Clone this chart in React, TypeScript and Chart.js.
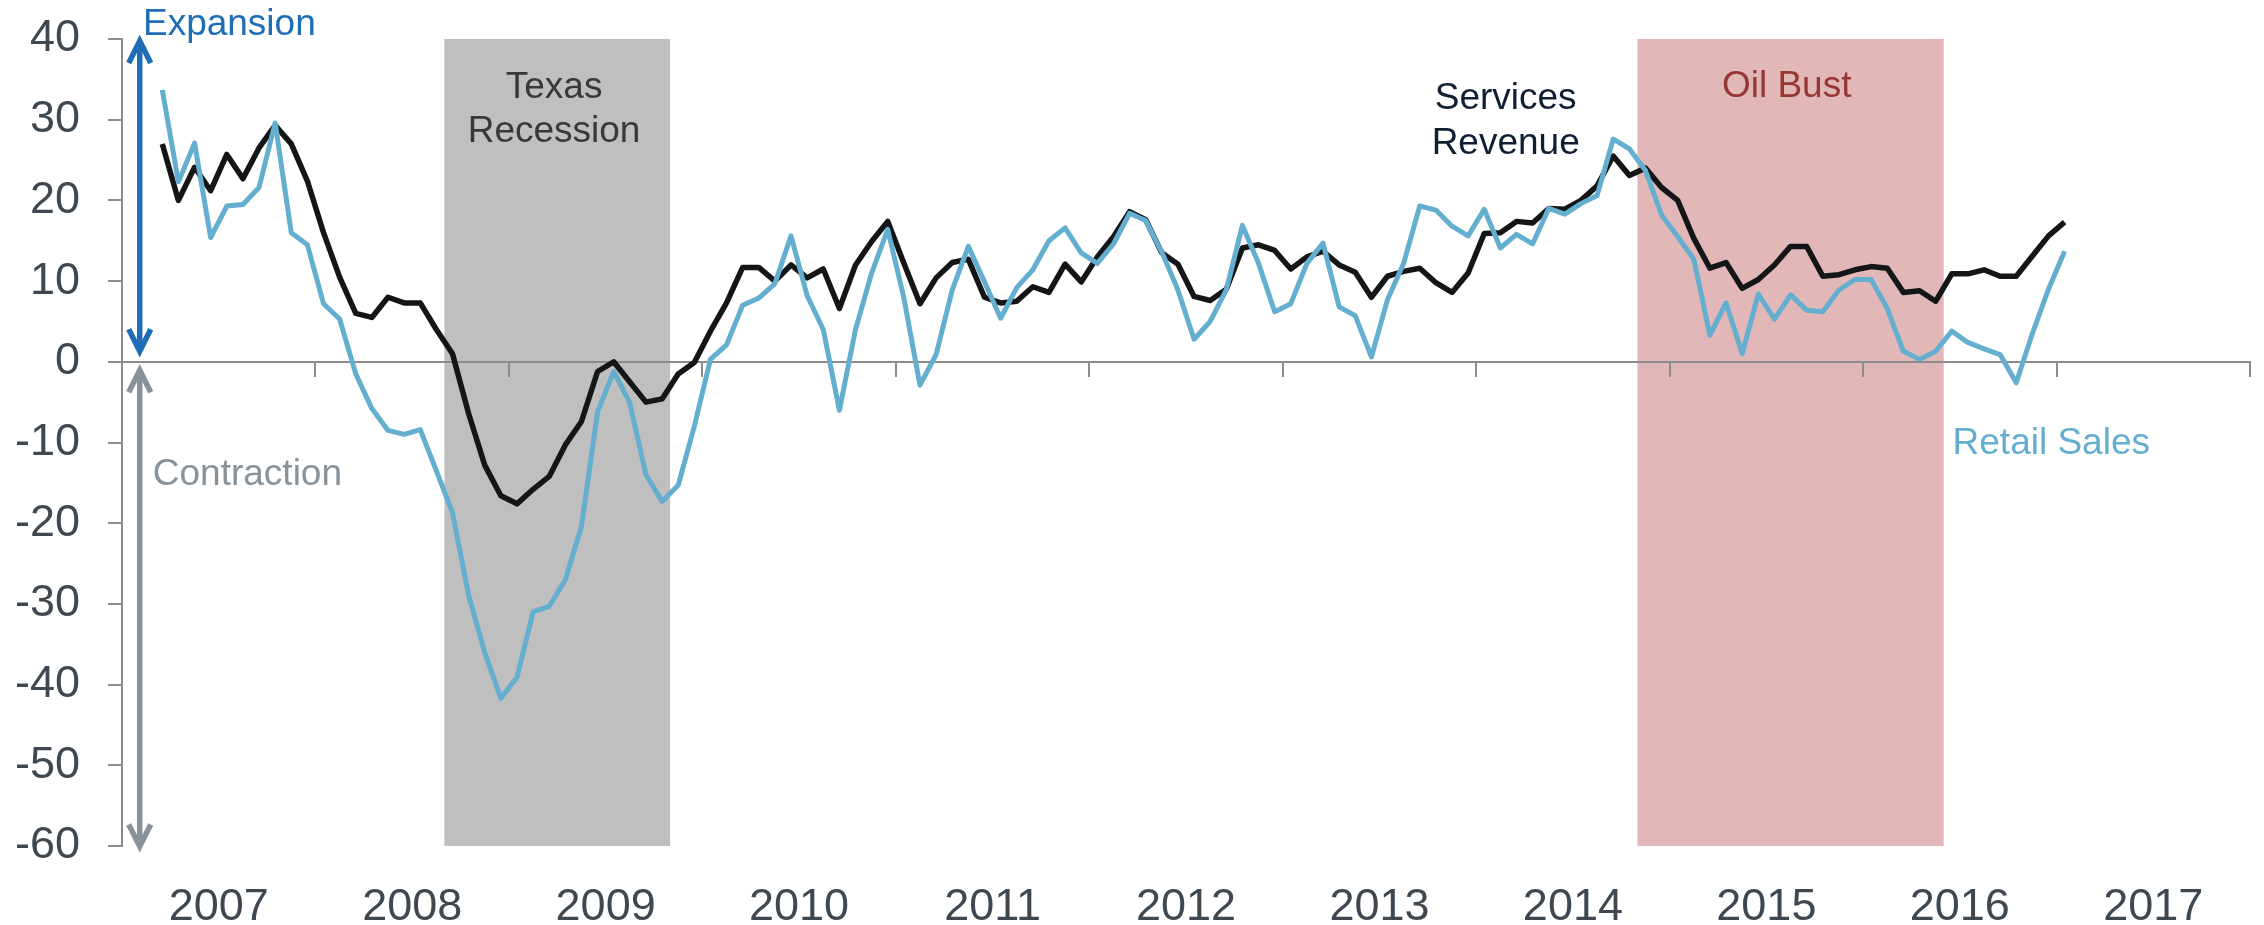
import React, { useEffect, useRef } from 'react';
import { Chart, registerables } from 'chart.js';

Chart.register(...registerables);

// ---------- data ----------
const YEAR_LABELS = ['2007', '2008', '2009', '2010', '2011', '2012', '2013', '2014', '2015', '2016', '2017'];
const MONTHS_TOTAL = 132; // 11 years of months on the x axis
const FIRST_MONTH_INDEX = 2; // first observation (month index from start of axis)

const SERVICES_REVENUE = [
  27.0, 20.0, 24.1, 21.2, 25.7, 22.7, 26.5, 29.3, 27.0, 22.4,
  16.0, 10.5, 6.0, 5.5, 8.0, 7.3, 7.3, 4.0, 1.0, -6.4,
  -12.8, -16.6, -17.6, -15.8, -14.2, -10.3, -7.4, -1.2, 0.0, -2.5,
  -5.0, -4.6, -1.5, -0.1, 3.8, 7.3, 11.7, 11.7, 10.0, 12.0,
  10.4, 11.5, 6.6, 12.0, 14.9, 17.4, 12.2, 7.2, 10.4, 12.3,
  12.7, 8.0, 7.3, 7.5, 9.3, 8.6, 12.1, 9.9, 13.0, 15.5,
  18.6, 17.6, 13.5, 12.1, 8.1, 7.6, 9.0, 14.1, 14.5, 13.8,
  11.5, 13.0, 13.7, 12.0, 11.1, 8.0, 10.6, 11.2, 11.6, 9.8,
  8.6, 11.0, 15.9, 16.0, 17.4, 17.2, 19.0, 18.9, 20.0, 21.8,
  25.5, 23.1, 24.0, 21.6, 20.0, 15.3, 11.6, 12.3, 9.1, 10.2,
  12.0, 14.3, 14.3, 10.6, 10.8, 11.4, 11.8, 11.6, 8.6, 8.8,
  7.5, 10.9, 10.9, 11.4, 10.6, 10.6, 13.1, 15.6, 17.3,
];

const RETAIL_SALES = [
  33.7, 22.3, 27.1, 15.4, 19.3, 19.5, 21.6, 29.6, 16.0, 14.5,
  7.2, 5.3, -1.5, -5.8, -8.5, -9.0, -8.4, -13.5, -18.7, -28.9,
  -36.0, -41.7, -39.1, -31.0, -30.3, -27.0, -20.4, -6.2, -1.2, -5.1,
  -14.0, -17.3, -15.3, -8.0, 0.3, 2.1, 7.0, 7.9, 9.7, 15.6,
  8.2, 4.0, -6.0, 4.0, 11.0, 16.4, 7.9, -2.9, 0.9, 8.9,
  14.3, 9.9, 5.4, 9.2, 11.4, 15.0, 16.6, 13.5, 12.2, 14.6,
  18.4, 17.5, 13.6, 8.9, 2.8, 5.0, 8.9, 16.9, 12.2, 6.2,
  7.2, 12.2, 14.7, 6.8, 5.7, 0.6, 7.7, 12.2, 19.3, 18.8,
  16.8, 15.6, 18.9, 14.1, 15.8, 14.6, 19.0, 18.3, 19.6, 20.6,
  27.6, 26.4, 23.7, 18.2, 15.5, 12.7, 3.3, 7.3, 1.0, 8.4,
  5.3, 8.3, 6.4, 6.2, 8.9, 10.2, 10.2, 6.6, 1.3, 0.3,
  1.3, 3.8, 2.4, 1.6, 0.9, -2.6, 3.5, 9.0, 13.7,
];

const Y_MIN = -60;
const Y_MAX = 40;
const Y_STEP = 10;

const RECESSION_SPAN = [20, 34]; // month index range
const OIL_BUST_SPAN = [94, 113];

// ---------- styles ----------
const FONT = '"Liberation Sans", Arial, Helvetica, sans-serif';
const TEXT_COLOR = '#3F4850';
const AXIS_COLOR = '#8C8C8C';
const BLUE = '#64AECF';
const BLACK = '#131516';

const toPoints = (values: number[]) =>
  values.map((v, i) => ({ x: FIRST_MONTH_INDEX + i + 0.5, y: v }));

const BANDS = [
  { span: RECESSION_SPAN, color: '#BFBFBF' },
  { span: OIL_BUST_SPAN, color: '#E1B8B7' },
];

type Note = { lines: string[]; x: number; y: number; align: CanvasTextAlign; color: string };
const NOTES: Note[] = [
  { lines: ['Expansion'], x: 1.3, y: 40.54, align: 'left', color: '#1F6DB5' },
  { lines: ['Contraction'], x: 1.91, y: -15.27, align: 'left', color: '#87929A' },
  { lines: ['Texas', 'Recession'], x: 26.8, y: 32.74, align: 'center', color: '#383838' },
  { lines: ['Services', 'Revenue'], x: 85.83, y: 31.32, align: 'center', color: '#0F1E32' },
  { lines: ['Oil Bust'], x: 103.26, y: 32.81, align: 'center', color: '#953734' },
  { lines: ['Retail Sales'], x: 113.55, y: -11.42, align: 'left', color: BLUE },
];

const ARROWS = [
  { x: 1.1, from: 40, to: 1.06, color: '#1F6DB5' },
  { x: 1.1, from: -0.8, to: -60.3, color: '#8A9299' },
];

const bandsPlugin = {
  id: 'bands',
  beforeDraw(chart: any) {
    const { ctx, chartArea, scales } = chart;
    const xs = scales.x;
    ctx.save();
    for (const b of BANDS) {
      const x0 = xs.getPixelForValue(b.span[0]);
      const x1 = xs.getPixelForValue(b.span[1]);
      ctx.fillStyle = b.color;
      ctx.fillRect(x0, chartArea.top, x1 - x0, chartArea.bottom - chartArea.top);
    }
    ctx.restore();
  },
};

function drawHead(ctx: CanvasRenderingContext2D, x: number, tipY: number, dir: number) {
  ctx.beginPath();
  ctx.moveTo(x - 11, tipY + dir * 22);
  ctx.lineTo(x, tipY);
  ctx.lineTo(x + 11, tipY + dir * 22);
  ctx.stroke();
}

const notesPlugin = {
  id: 'notes',
  afterDraw(chart: any) {
    const { ctx, scales } = chart;
    const xs = scales.x;
    const ys = scales.y;
    ctx.save();
    // arrows
    for (const a of ARROWS) {
      const px = xs.getPixelForValue(a.x);
      const y0 = ys.getPixelForValue(a.from);
      const y1 = ys.getPixelForValue(a.to);
      ctx.strokeStyle = a.color;
      ctx.lineWidth = 5.5;
      ctx.lineCap = 'butt';
      ctx.lineJoin = 'miter';
      ctx.beginPath();
      ctx.moveTo(px, y0 + 3);
      ctx.lineTo(px, y1 - 3);
      ctx.stroke();
      drawHead(ctx, px, y0 + 2, 1);
      drawHead(ctx, px, y1 - 2, -1);
    }
    // text notes
    ctx.font = `37px ${FONT}`;
    ctx.textBaseline = 'alphabetic';
    for (const n of NOTES) {
      const px = xs.getPixelForValue(n.x);
      const py = ys.getPixelForValue(n.y);
      ctx.fillStyle = n.color;
      ctx.textAlign = n.align;
      const lineGap = ys.getPixelForValue(n.y - 5.55) - py;
      n.lines.forEach((t, i) => ctx.fillText(t, px, py + i * lineGap));
    }
    ctx.restore();
  },
};

export default function App() {
  const ref = useRef<HTMLCanvasElement>(null);

  useEffect(() => {
    if (!ref.current) return;
    const chart = new Chart(ref.current, {
      type: 'line',
      data: {
        datasets: [
          {
            label: 'Retail Sales',
            data: toPoints(RETAIL_SALES),
            borderColor: BLUE,
            borderWidth: 5,
            pointRadius: 0,
            tension: 0,
            borderJoinStyle: 'round',
            fill: false,
            order: 0,
          },
          {
            label: 'Services Revenue',
            data: toPoints(SERVICES_REVENUE),
            borderColor: BLACK,
            borderWidth: 5.5,
            pointRadius: 0,
            tension: 0,
            borderJoinStyle: 'round',
            fill: false,
            order: 1,
          },
        ],
      },
      options: {
        responsive: false,
        maintainAspectRatio: false,
        animation: false,
        devicePixelRatio: 1,
        layout: { padding: { top: 39, right: 14, bottom: 0, left: 0 } },
        plugins: {
          legend: { display: false },
          tooltip: { enabled: false },
          title: { display: false },
        },
        scales: {
          x: {
            type: 'linear',
            min: 0,
            max: MONTHS_TOTAL,
            position: 'bottom',
            grid: { display: false, drawTicks: false },
            border: { display: false },
            ticks: {
              autoSkip: false,
              maxRotation: 0,
              padding: 35,
              color: TEXT_COLOR,
              font: { size: 45, family: FONT },
              callback: (_v: any, i: number) => YEAR_LABELS[i],
            },
            afterBuildTicks: (s: any) => {
              s.ticks = YEAR_LABELS.map((_, i) => ({ value: 6 + 12 * i }));
            },
            afterFit: (s: any) => {
              s.height = 79;
              s.paddingLeft = 0;
              s.paddingRight = 0;
            },
          },
          xLine: {
            type: 'linear',
            axis: 'x',
            min: 0,
            max: MONTHS_TOTAL,
            position: { y: 0 },
            grid: {
              display: true,
              drawOnChartArea: false,
              drawTicks: true,
              tickLength: 14,
              color: AXIS_COLOR,
              lineWidth: 2,
            },
            border: { display: true, color: AXIS_COLOR, width: 2 },
            ticks: { display: false, stepSize: 12 },
          },
          y: {
            type: 'linear',
            min: Y_MIN,
            max: Y_MAX,
            position: 'left',
            grid: {
              drawOnChartArea: false,
              drawTicks: true,
              tickLength: 14,
              color: AXIS_COLOR,
              lineWidth: 2,
            },
            border: { display: true, color: AXIS_COLOR, width: 2 },
            ticks: {
              stepSize: Y_STEP,
              padding: 28,
              color: TEXT_COLOR,
              font: { size: 45, family: FONT },
            },
            afterFit: (s: any) => {
              s.width = 122;
              s.paddingTop = 0;
              s.paddingBottom = 0;
            },
          },
        } as any,
      },
      plugins: [bandsPlugin, notesPlugin],
    });
    return () => chart.destroy();
  }, []);

  return (
    <div style={{ position: 'absolute', left: 0, top: 0, width: 2264, height: 925, background: '#ffffff' }}>
      <canvas ref={ref} width={2264} height={925} style={{ display: 'block', width: 2264, height: 925 }} />
    </div>
  );
}
